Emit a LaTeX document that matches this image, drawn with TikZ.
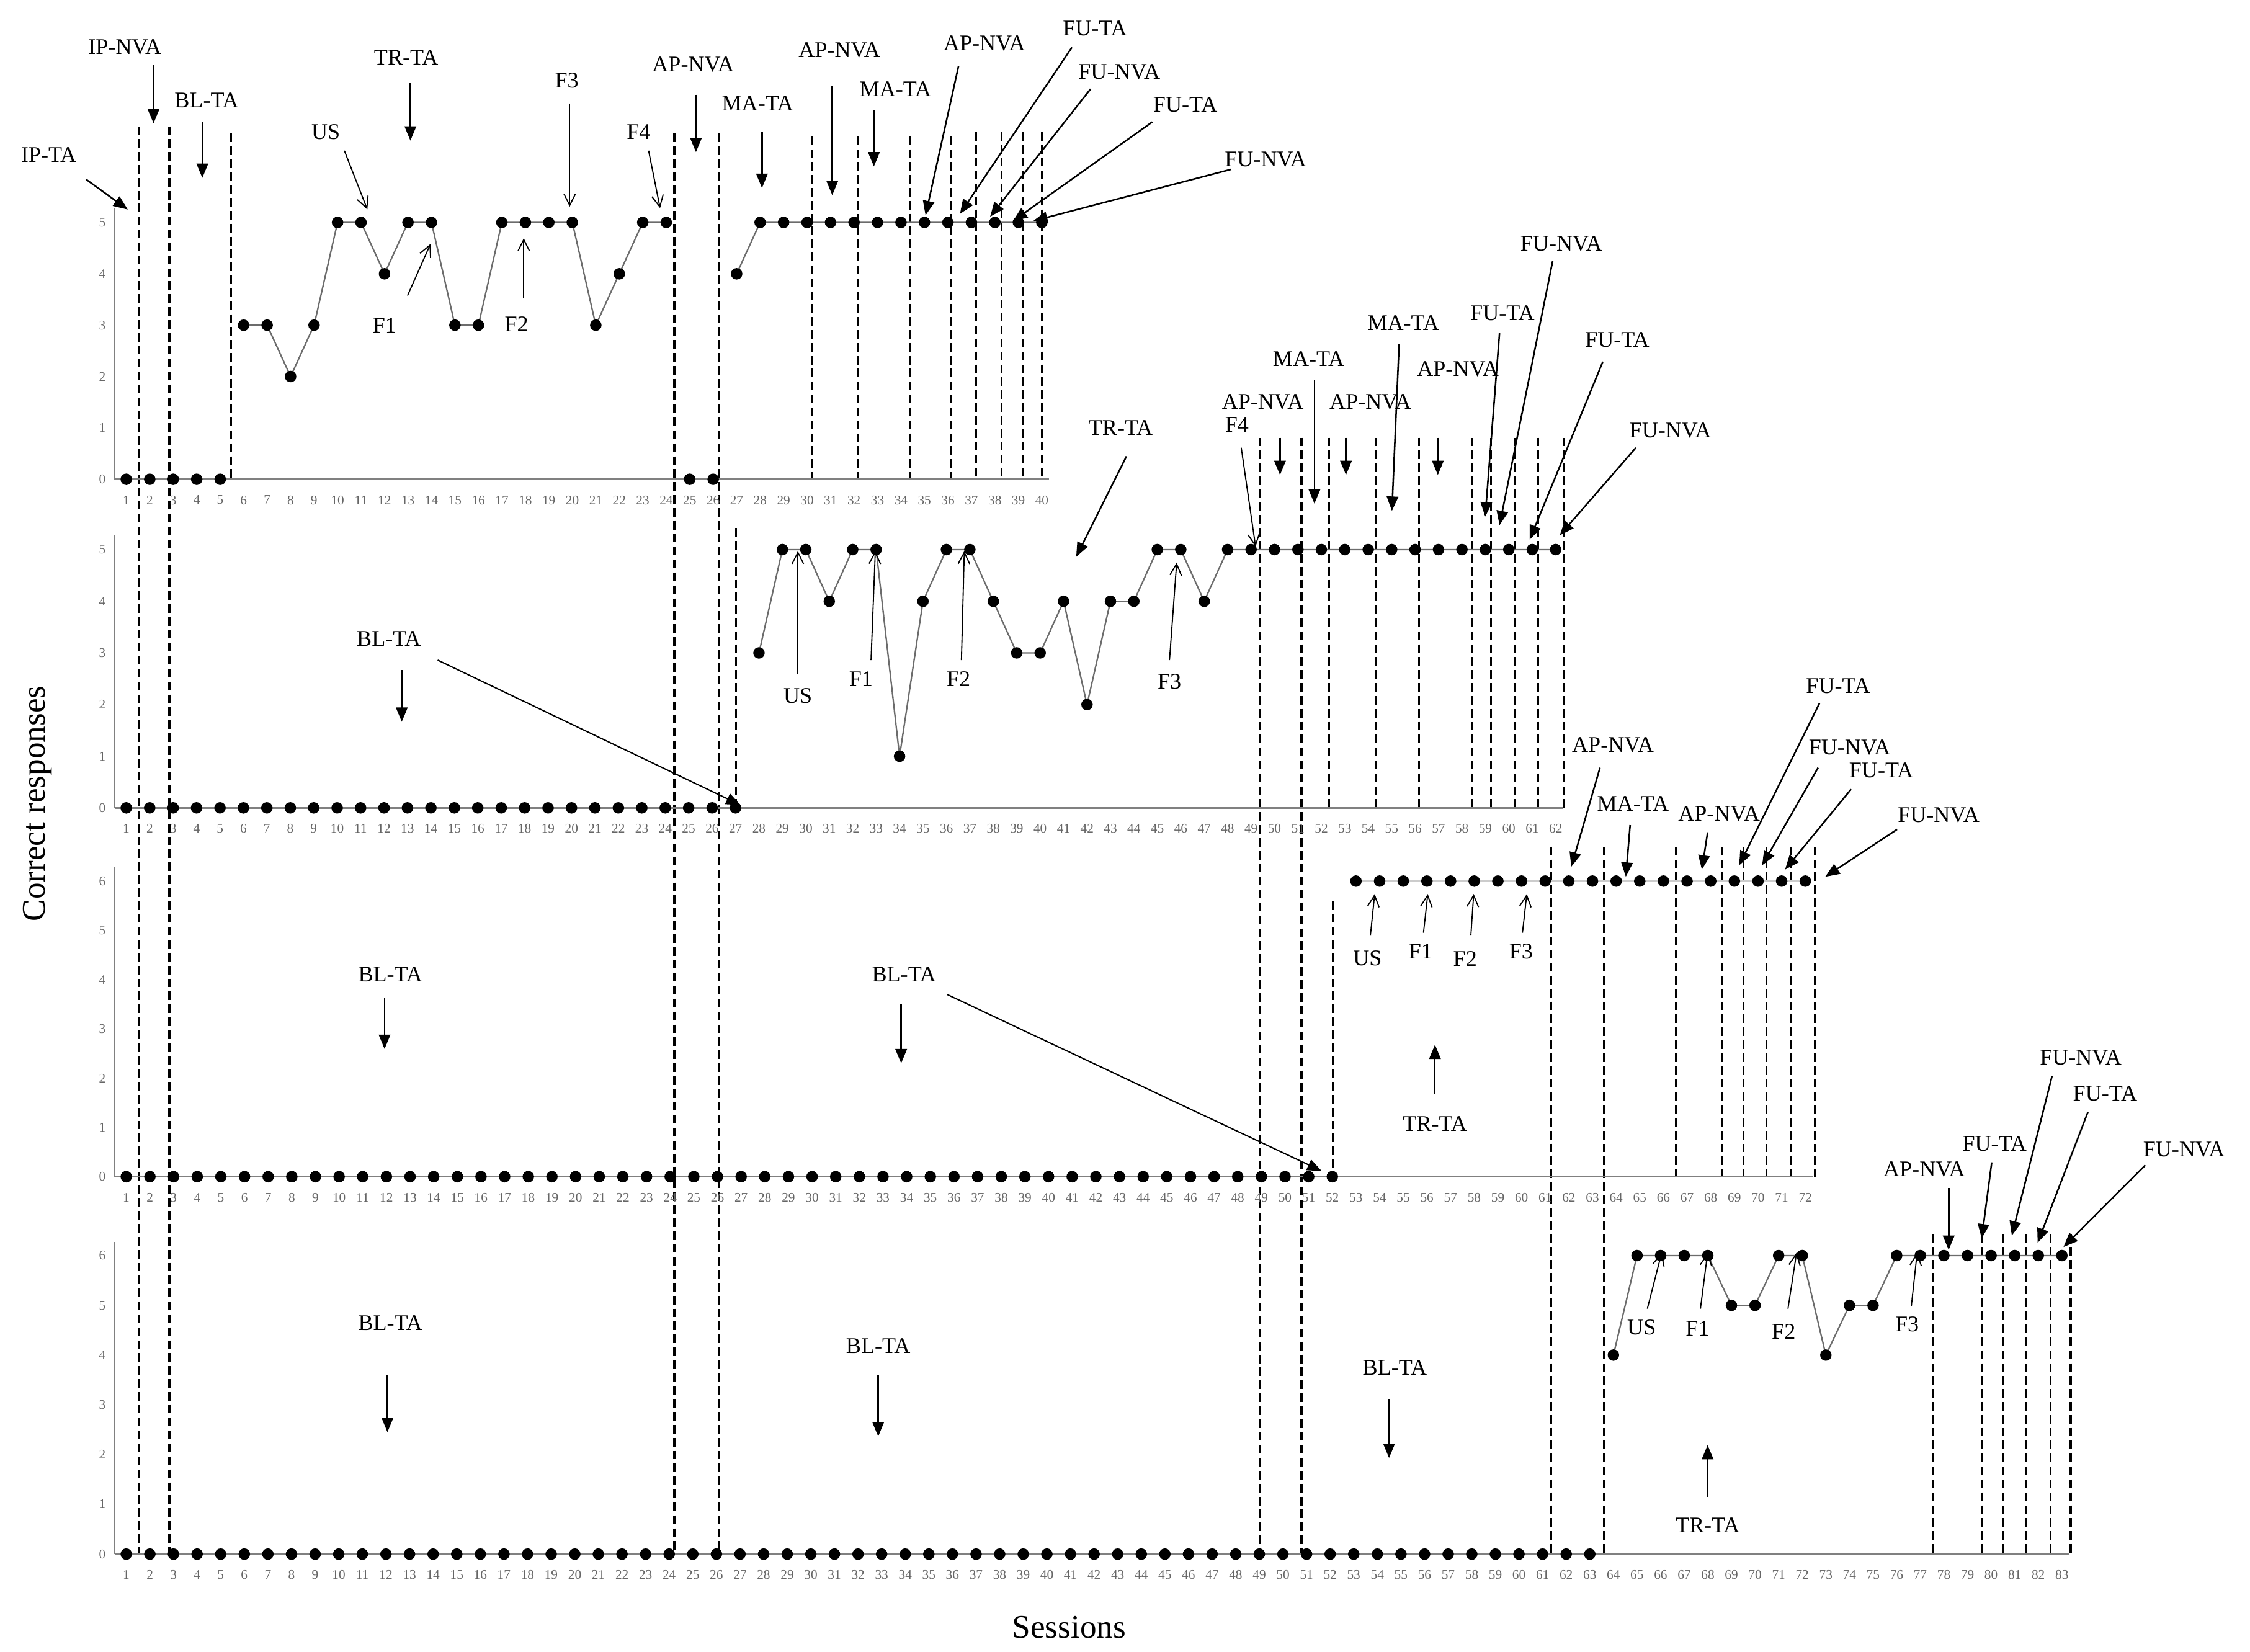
\documentclass[tikz,border=0pt]{standalone}
\usepackage{fontspec}
\setmainfont{Liberation Serif}
\usetikzlibrary{arrows.meta}
\begin{document}
\begin{tikzpicture}[x=0.5pt,y=-0.5pt,
  dot/.style={circle,fill=black,inner sep=0pt,minimum size=4pt},
  dline/.style={gray!85!black,line width=0.5pt},
  axis/.style={gray,line width=0.6pt},
  phase/.style={black,line width=0.75pt,dash pattern=on 3pt off 1.5pt},
  tick/.style={font=\fontsize{4.6}{5}\selectfont,text=gray!80!black,inner sep=1pt},
  lab/.style={font=\fontsize{7.8}{8}\selectfont,inner sep=0.5pt},
  big/.style={-{Triangle[length=5pt,width=4pt]},line width=0.55pt},
  open/.style={-{Straight Barb[length=4pt,width=4pt]},line width=0.4pt}]
\useasboundingbox (0,0) rectangle (1568,1151);
% ---------- dashed phase lines
\foreach \x/\a/\b in {97/88/1083,118/88/1083,161/93/334,470/93/1083,501/93/1083,
 566/95/334,598/95/334,634/95/334,663/95/334,680/92/334,698/92/334,713/92/334,726/92/334,
 513/368/563,878/305/1083,907/305/1083,926/305/563,959/305/563,989/305/563,1026/305/563,
 1039/305/563,1056/305/563,1072/305/563,1090/305/563,
 929/628/820,1081/590/1083,1118/590/1083,1168/590/820,1200/590/820,1215/590/820,
 1231/590/820,1248/590/820,1265/590/820,
 1347/860/1083,1381/860/1083,1396/860/1083,1412/860/1083,1429/860/1083,1443/860/1083}
 \draw[phase] (\x,\a) -- (\x,\b);
% ---------- panels: #1 step, #2 baseline, #3 unit, #4 N, #5 ymax
\newcommand{\panelaxes}[5]{%
 \begin{scope}[shift={({88-#1},#2)},xscale=#1,yscale=-#3]
  \draw[axis] ({1-8/#1},0) -- ({1-8/#1},{#5+0.28});
  \draw[axis] ({1-8/#1},0) -- (#4+0.3,0);
  \foreach \v in {0,...,#5} \node[tick,anchor=east] at ({1-12/#1},\v) {\v};
  \foreach \s in {1,...,#4} \node[tick,anchor=north] at (\s,{-9/#3}) {\s};
 \end{scope}}
\panelaxes{16.36}{334}{35.8}{40}{5}
\panelaxes{16.33}{563}{36}{62}{5}
\panelaxes{16.48}{820}{34.33}{72}{6}
\panelaxes{16.45}{1083}{34.67}{83}{6}
% Panel 1 data
\begin{scope}[shift={({88-16.36},334)},xscale=16.36,yscale=-35.8]
 \draw[dline] (6,3)--(7,3)--(8,2)--(9,3)--(10,5)--(11,5)--(12,4)--(13,5)--(14,5)--(15,3)--(16,3)--(17,5)--(18,5)--(19,5)--(20,5)--(21,3)--(22,4)--(23,5)--(24,5);
 \draw[dline] (27,4)--(28,5)--(40,5);
 \foreach \s/\v in {1/0,2/0,3/0,4/0,5/0,6/3,7/3,8/2,9/3,10/5,11/5,12/4,13/5,14/5,15/3,16/3,17/5,18/5,19/5,20/5,21/3,22/4,23/5,24/5,25/0,26/0,27/4}
  \node[dot] (pa\s) at (\s,\v) {};
 \foreach \s in {28,...,40} \node[dot] (pa\s) at (\s,5) {};
\end{scope}
% Panel 2 data
\begin{scope}[shift={({88-16.33},563)},xscale=16.33,yscale=-36]
 \draw[dline] (28,3)--(29,5)--(30,5)--(31,4)--(32,5)--(33,5)--(34,1)--(35,4)--(36,5)--(37,5)--(38,4)--(39,3)--(40,3)--(41,4)--(42,2)--(43,4)--(44,4)--(45,5)--(46,5)--(47,4)--(48,5)--(49,5)--(62,5);
 \foreach \s in {1,...,27} \node[dot] (pb\s) at (\s,0) {};
 \foreach \s/\v in {28/3,29/5,30/5,31/4,32/5,33/5,34/1,35/4,36/5,37/5,38/4,39/3,40/3,41/4,42/2,43/4,44/4,45/5,46/5,47/4,48/5,49/5}
  \node[dot] (pb\s) at (\s,\v) {};
 \foreach \s in {50,...,62} \node[dot] (pb\s) at (\s,5) {};
\end{scope}
% Panel 3 data
\begin{scope}[shift={({88-16.48},820)},xscale=16.48,yscale=-34.33]
 \draw[dline,gray!40] (53,6)--(72,6);
 \foreach \s in {1,...,52} \node[dot] (pc\s) at (\s,0) {};
 \foreach \s in {53,...,72} \node[dot] (pc\s) at (\s,6) {};
\end{scope}
% Panel 4 data
\begin{scope}[shift={({88-16.45},1083)},xscale=16.45,yscale=-34.67]
 \draw[dline] (64,4)--(65,6)--(66,6)--(67,6)--(68,6)--(69,5)--(70,5)--(71,6)--(72,6)--(73,4)--(74,5)--(75,5)--(76,6)--(77,6)--(83,6);
 \foreach \s in {1,...,63} \node[dot] (pd\s) at (\s,0) {};
 \foreach \s/\v in {64/4,65/6,66/6,67/6,68/6,69/5,70/5,71/6,72/6,73/4,74/5,75/5,76/6,77/6,78/6,79/6,80/6,81/6,82/6,83/6}
  \node[dot] (pd\s) at (\s,\v) {};
\end{scope}
% ---------- annotations: text, arrow start, arrow end, style
\foreach \n/\t/\tx/\ty/\ax/\ay/\bx/\by/\st in {
 a1/IP-TA/34/108/60/125/89/146/big,
 a2/IP-NVA/87/33/107/45/107/86/big,
 a3/BL-TA/144/70/141/85/141/124/big,
 a4/TR-TA/283/40/286/58/286/98/big,
 a5/US/227/92/240/105/256/146/open,
 a6/F1/268/227/284/206/300/170/open,
 a7/F2/360/226/365/208/365/166/open,
 a8/F3/395/56/397/72/397/144/open,
 a9/F4/445/92/452/105/460/145/open,
 a10/AP-NVA/483/45/485/66/485/106/big,
 a11/MA-TA/528/72/531/92/531/131/big,
 a12/AP-NVA/585/35/580/60/580/136/big,
 a13/MA-TA/624/62/609/77/609/116/big,
 a14/AP-NVA/686/30/668/46/645/150/big,
 a15/FU-TA/763/20/747/33/669/149/big,
 a16/FU-NVA/780/50/760/62/690/151/big,
 a17/FU-TA/826/73/803/85/706/154/big,
 a18/FU-NVA/882/111/858/118/720/154/big,
 b1/TR-TA/781/298/785/318/750/388/big,
 b2/BL-TA/271/445/280/467/280/503/big,
 b3/US/556/485/556/470/556/384/open,
 b4/F1/600/473/607/460/610/384/open,
 b5/F2/668/473/670/460/672/384/open,
 b6/F3/815/475/815/460/820/392/open,
 b7/F4/862/296/865/312/875/381/open,
 b8/AP-NVA/880/280/892/305/892/331/big,
 b9/MA-TA/912/250/916/265/916/351/big,
 b10/AP-NVA/955/280/938/305/938/331/big,
 b11/MA-TA/978/225/975/240/970/356/big,
 b12/AP-NVA/1016/257/1002/305/1002/331/big,
 b13/FU-TA/1047/218/1045/232/1035/360/big,
 b14/FU-NVA/1088/170/1082/182/1045/366/big,
 b15/FU-TA/1127/237/1117/252/1066/376/big,
 b16/FU-NVA/1164/300/1140/312/1087/373/big,
 c1/AP-NVA/1124/519/1115/535/1095/604/big,
 c2/MA-TA/1138/560/1136/575/1133/611/big,
 c3/AP-NVA/1198/567/1190/580/1186/606/big,
 c4/FU-TA/1281/478/1268/490/1212/603/big,
 c5/FU-NVA/1289/521/1267/535/1228/603/big,
 c6/FU-TA/1311/537/1290/550/1244/606/big,
 c7/FU-NVA/1351/568/1322/578/1272/611/big,
 c8/US/953/668/955/652/958/623/open,
 c9/F1/990/663/992/650/995/623/open,
 c10/F2/1021/668/1025/652/1027/623/open,
 c11/F3/1060/663/1061/650/1064/623/open,
 c12/TR-TA/1000/783/1000/762/1000/728/big,
 c13/BL-TA/272/679/268/695/268/731/big,
 c14/BL-TA/630/679/628/700/628/741/big,
 d1/BL-TA/272/922/270/958/270/998/big,
 d2/BL-TA/612/938/612/958/612/1001/big,
 d3/BL-TA/972/953/968/975/968/1016/big,
 d4/TR-TA/1190/1063/1190/1043/1190/1007/big,
 d5/US/1144/925/1148/912/1158/873/open,
 d6/F1/1183/926/1185/912/1190/873/open,
 d7/F2/1243/928/1246/912/1252/873/open,
 d8/F3/1329/923/1332/910/1336/873/open,
 d9/AP-NVA/1341/815/1358/828/1358/871/big,
 d10/FU-TA/1390/797/1388/810/1381/863/big,
 d11/FU-NVA/1450/737/1430/750/1402/861/big,
 d12/FU-TA/1467/762/1455/775/1420/866/big,
 d13/FU-NVA/1522/801/1495/812/1438/869/big}
 {\node[lab] (\n) at (\tx,\ty) {\t};
  \coordinate (\n s) at (\ax,\ay); \coordinate (\n e) at (\bx,\by);
  \draw[\st] (\n s) -- (\n e);}
% long arrows
\coordinate (l1s) at (305,460); \coordinate (l1e) at (516,561);
\draw[big,line width=0.45pt] (l1s) -- (l1e);
\coordinate (l2s) at (660,693); \coordinate (l2e) at (921,816);
\draw[big,line width=0.45pt] (l2s) -- (l2e);
% axis titles
\node[font=\fontsize{11.5}{12}\selectfont,rotate=90] (ylab) at (26,560) {Correct responses};
\node[font=\fontsize{11.5}{12}\selectfont] (xlab) at (745,1134) {Sessions};
\end{tikzpicture}
\end{document}
